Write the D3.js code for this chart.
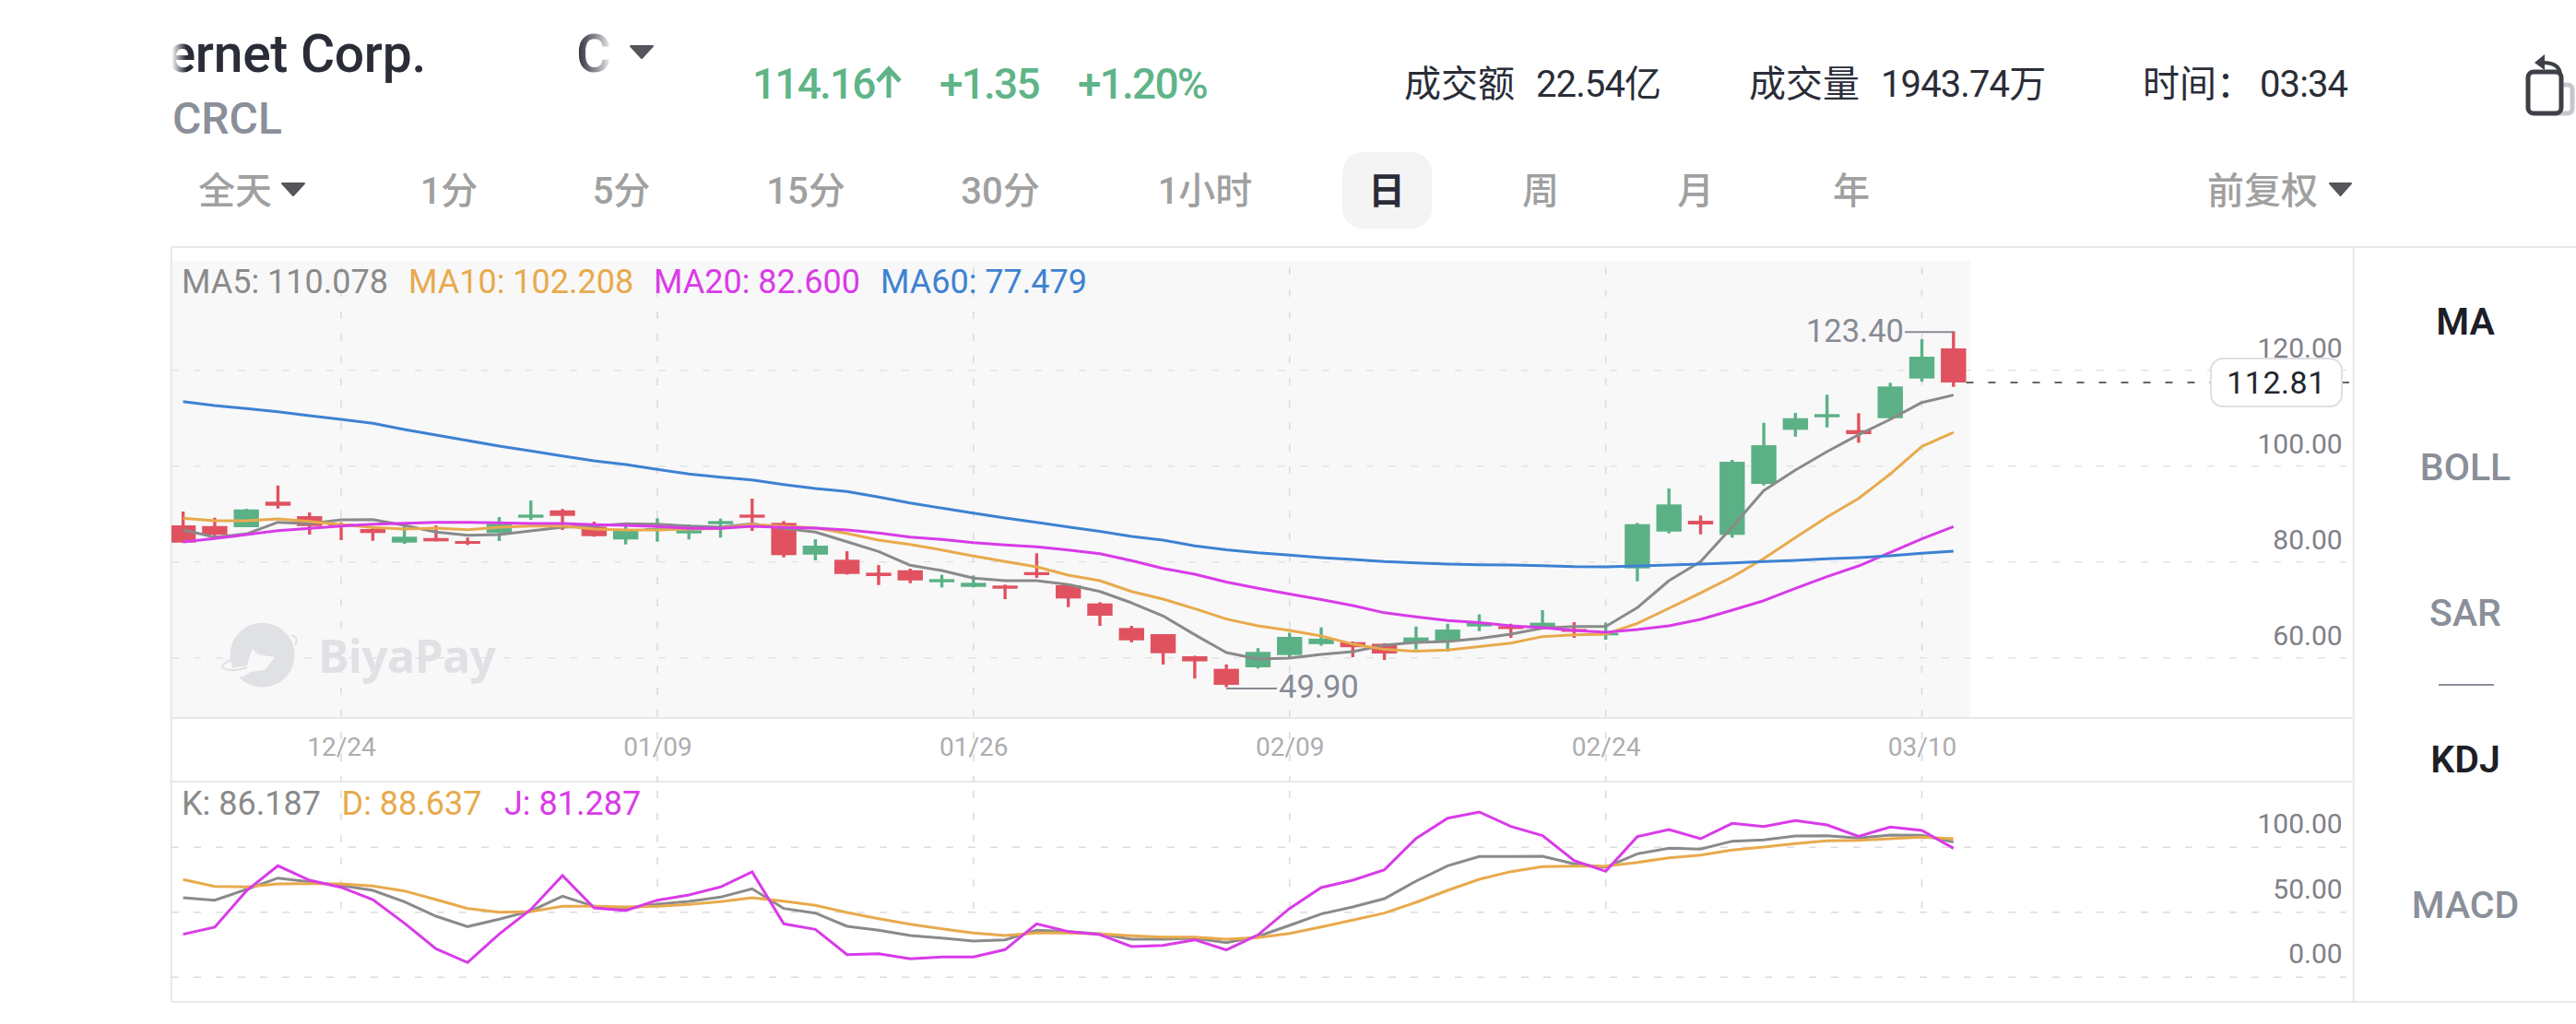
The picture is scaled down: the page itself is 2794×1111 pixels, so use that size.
<!DOCTYPE html>
<html><head><meta charset="utf-8">
<script src="https://cdnjs.cloudflare.com/ajax/libs/d3/7.8.5/d3.min.js"></script>
<style>html,body{margin:0;padding:0;background:#fff;overflow:hidden}svg{display:block}
text{font-family:Roboto,"Noto Sans CJK SC",sans-serif}</style></head><body><svg id="c" width="2794" height="1111"></svg>
<script>
const dates=['12/17','12/18','12/19','12/22','12/23','12/24','12/26','12/29','12/30','12/31','01/02','01/05','01/06','01/07','01/08','01/09','01/12','01/13','01/14','01/15','01/16','01/20','01/21','01/22','01/23','01/26','01/27','01/28','01/29','01/30','02/02','02/03','02/04','02/05','02/06','02/09','02/10','02/11','02/12','02/13','02/17','02/18','02/19','02/20','02/23','02/24','02/25','02/26','02/27','03/02','03/03','03/04','03/05','03/06','03/09','03/10','03/11'];
const dateTicks=['12/24','01/09','01/26','02/09','02/24','03/10'];
const opens=[83.30,83.16,82.92,88.19,85.20,83.62,82.54,79.74,80.69,80.06,81.72,84.88,86.40,82.97,80.39,82.16,81.64,83.55,85.52,83.81,77.26,76.20,73.53,74.03,71.55,70.60,70.87,73.65,70.93,67.18,62.11,60.84,56.27,53.68,53.99,56.52,58.78,59.18,58.86,58.97,59.32,62.42,62.48,62.23,61.90,60.59,74.41,82.02,84.25,81.34,91.86,103.03,105.62,102.96,105.43,113.62,119.84];
const highs=[86.15,84.88,86.72,91.54,85.96,83.93,82.97,83.30,83.30,80.77,85.01,88.44,86.67,84.06,83.68,84.76,83.49,84.69,88.82,84.19,80.44,77.97,75.11,74.35,73.08,72.96,71.06,77.53,71.06,67.44,62.55,60.84,56.38,54.58,57.95,61.12,62.23,59.32,58.97,62.42,62.99,64.93,62.99,65.79,63.31,63.20,83.81,90.91,85.33,96.81,104.48,106.52,110.27,106.46,112.74,121.74,123.40];
const lows=[79.68,80.88,82.92,86.78,81.39,80.25,80.12,79.49,80.00,79.24,80.06,84.44,82.35,80.96,79.36,79.93,80.39,80.77,82.16,76.69,76.07,73.15,70.98,71.36,70.49,70.49,68.07,72.45,66.42,62.55,59.13,54.56,51.67,49.90,53.74,55.95,58.46,56.08,55.51,57.68,57.22,61.45,60.08,61.90,60.08,59.70,71.74,81.64,81.45,80.77,91.54,101.63,103.53,100.37,105.43,112.99,111.90];
const closes=[79.74,81.39,86.59,87.35,83.16,83.16,81.72,80.96,80.00,79.49,83.62,85.52,85.26,81.07,82.29,82.73,82.29,84.19,84.88,77.15,79.11,73.27,72.83,71.93,72.20,71.44,70.22,73.02,68.20,64.65,59.56,56.90,55.22,50.37,57.17,60.27,59.89,58.14,56.84,60.15,61.79,63.20,61.90,63.20,61.31,61.12,83.55,87.62,83.49,96.43,99.86,105.43,106.27,102.14,111.98,118.13,112.81];
const ma5=[82.35,80.88,81.53,83.93,83.62,84.44,84.50,83.30,81.91,81.26,81.39,82.16,82.92,83.16,83.62,83.55,83.16,82.92,83.62,82.67,81.91,79.93,77.91,75.06,73.97,72.39,71.88,71.88,71.06,69.65,67.31,64.59,60.72,57.03,55.70,55.89,56.65,57.22,58.56,59.13,59.32,59.94,60.84,62.09,62.42,62.42,66.30,71.88,75.82,82.97,90.47,94.72,98.52,102.01,105.19,108.67,110.2];
const ma10=[84.76,84.25,84.25,84.63,84.12,83.43,82.86,82.54,82.73,82.40,82.92,83.16,83.16,82.54,82.35,82.35,82.54,82.67,83.49,83.11,82.78,81.64,80.25,79.36,78.22,76.96,75.82,74.73,73.02,71.88,69.65,68.07,66.11,63.96,62.55,61.60,60.46,58.78,57.68,57.30,57.56,58.27,58.97,60.34,60.72,60.86,63.07,66.17,69.35,72.64,76.45,80.77,85.01,88.87,93.90,99.61,102.5];
const ma20=[79.87,80.58,81.39,82.21,82.67,83.16,83.55,83.74,83.93,83.93,83.81,83.68,83.68,83.43,83.30,83.05,82.67,82.67,83.11,82.86,82.73,82.35,81.72,80.88,80.39,79.74,79.24,78.86,78.22,77.45,76.01,74.41,73.21,71.61,70.32,69.14,67.98,66.74,65.25,64.42,63.64,63.20,62.55,62.17,61.60,61.24,61.79,62.55,63.88,65.79,67.75,70.30,72.70,74.92,77.72,80.50,83.05];
const ma60=[108.86,108.04,107.41,106.77,105.95,105.19,104.37,103.09,101.95,100.81,99.67,98.66,97.63,96.62,95.86,94.85,93.90,93.25,92.68,91.73,90.91,90.28,89.14,87.92,86.86,85.83,84.82,83.93,82.97,82.06,81.01,80.25,79.05,78.25,77.63,77.17,76.66,76.26,75.82,75.55,75.30,75.17,75.11,74.98,74.77,74.73,74.92,75.11,75.30,75.55,75.82,76.07,76.39,76.64,77.02,77.53,77.97];
const kVals=[43.27,41.38,49.65,58.40,55.56,52.72,48.94,40.19,29.08,21.05,26.72,33.10,44.45,36.65,34.99,38.30,40.43,43.74,50.12,34.99,31.45,21.28,18.21,14.19,12.30,9.93,10.88,18.21,17.26,15.37,11.35,11.35,12.06,8.75,13.48,21.99,30.74,36.18,42.56,56.03,67.85,74.94,74.94,75.18,69.27,66.67,77.07,81.33,80.62,86.76,87.71,90.78,91.02,89.13,91.49,91.26,86.187];
const dVals=[57.21,52.01,51.54,53.91,54.14,53.91,52.25,48.47,41.85,34.99,32.16,32.63,36.65,36.65,36.18,36.65,38.07,40.19,43.27,40.67,37.36,31.92,27.19,22.94,19.39,16.08,14.19,16.08,16.08,15.37,13.95,13.00,13.00,11.35,12.54,15.84,20.81,26.01,31.45,39.72,48.94,57.45,63.36,67.14,67.62,67.62,70.45,74.00,76.13,79.91,82.27,84.87,87.00,87.47,88.66,89.84,88.637];
const jVals=[15.14,20.57,48.47,67.85,56.74,51.30,41.85,23.65,4.02,-6.61,15.37,34.28,60.29,35.47,33.34,41.38,45.39,51.54,63.12,23.17,18.92,-0.47,0.24,-3.78,-2.36,-2.36,3.31,23.17,17.26,14.90,5.68,6.62,10.88,3.08,14.66,34.99,51.07,56.74,64.78,88.89,104.49,109.22,98.11,91.02,71.87,63.60,90.31,95.75,88.66,100.48,98.11,102.60,99.29,90.55,97.64,95.04,81.287];
const priceTicks=[120,100,80,60];
const kdjTicks=[100,50,0];
const maLegend=[['MA5: 110.078','#8a8a8a'],['MA10: 102.208','#e8aa4c'],['MA20: 82.600','#d93be8'],['MA60: 77.479','#3d82d2']];
const kdjLegend=[['K: 86.187','#8a8a8a'],['D: 88.637','#e8aa4c'],['J: 81.287','#d93be8']];
const highLabel='123.40',lowLabel='49.90',lastLabel='112.81';
const tabs=[['全天',255],['1分',487],['5分',674],['15分',874],['30分',1085],['1小时',1307],['日',1504],['周',1671],['月',1839],['年',2008],['前复权',2454]];
const indicators=[['MA',348,1],['BOLL',506.5,0],['SAR',664.7,0],['KDJ',823,1],['MACD',981.5,0]];

const svg=d3.select('#c');
const UP='#5bb185',DOWN='#e0525f',DARK='#2a2d38',GREY='#8a8f99',TAB='#a0a0a0',TRI='#54565c';
const x=d3.scalePoint(dates,[198.6,2118.8]);
const y=d3.scaleLinear([123.4,49.9],[359.3,745.5]);
const yPriceAxis=d3.scaleLinear([120,60],[378,690]);
const yKdj=d3.scaleLinear([100,0],[894,1035]);
const GRID_OFF=23.7,KGRID_OFF=25.2;

const defs=svg.append('defs');
defs.append('clipPath').attr('id','plot').append('rect').attr('x',186).attr('y',283).attr('width',1951).attr('height',496);
defs.append('clipPath').attr('id','ttl').append('rect').attr('x',187).attr('y',20).attr('width',300).attr('height',80);
const gr=defs.append('linearGradient').attr('id','fadeC');
gr.append('stop').attr('offset',0).attr('stop-color','#2a2d38');
gr.append('stop').attr('offset',.55).attr('stop-color','#8a8c92');
gr.append('stop').attr('offset',1).attr('stop-color','#f2f2f2');
const gl=defs.append('linearGradient').attr('id','fadeL');
gl.append('stop').attr('offset',0).attr('stop-color','#fff').attr('stop-opacity',1);
gl.append('stop').attr('offset',1).attr('stop-color','#fff').attr('stop-opacity',0);

// frame
svg.append('rect').attr('x',186).attr('y',283).attr('width',1951).attr('height',496).attr('fill','#f8f8f9');
const frame=[[186,268,2794,268],[186,779,2553,779],[186,848,2553,848],[186,1087,2794,1087],[185.7,268,185.7,1087],[2552.7,268,2552.7,1087]];
svg.append('g').selectAll('line').data(frame).join('line').attr('x1',d=>d[0]).attr('y1',d=>d[1]).attr('x2',d=>d[2]).attr('y2',d=>d[3]).attr('stroke','#e8e8e9').attr('stroke-width',2);

// grid
const gg=svg.append('g').attr('stroke-width',1.6).attr('stroke-dasharray','8 16').attr('fill','none');
gg.selectAll('.h').data(priceTicks).join('line').attr('x1',186).attr('x2',2545).attr('y1',d=>yPriceAxis(d)+GRID_OFF).attr('y2',d=>yPriceAxis(d)+GRID_OFF).attr('stroke','#e4e4e6');
gg.selectAll('.k').data(kdjTicks).join('line').attr('class','k').attr('x1',186).attr('x2',2545).attr('y1',d=>yKdj(d)+KGRID_OFF).attr('y2',d=>yKdj(d)+KGRID_OFF).attr('stroke','#dcdcde');
gg.selectAll('.v').data(dateTicks).join('line').attr('class','v').attr('x1',d=>x(d)).attr('x2',d=>x(d)).attr('y1',290).attr('y2',848).attr('stroke','#dcdcdf');
gg.selectAll('.w').data(dateTicks).join('line').attr('class','w').attr('x1',d=>x(d)).attr('x2',d=>x(d)).attr('y1',858).attr('y2',989).attr('stroke','#dcdcdf');

// watermark
const wm=svg.append('g').attr('fill','#e0e1e4');
wm.append('circle').attr('cx',284.6).attr('cy',710.7).attr('r',35);
wm.append('path').attr('d','M273.6 704L280 710L298 713L287 727L272 729L264 734L248 735L246 726L268 722L271 712Z').attr('fill','#f8f8f9');
wm.append('path').attr('d','M251 716Q236 722 244 726Q256 729 268 724').attr('fill','none').attr('stroke','#e0e1e4').attr('stroke-width',2);
wm.append('path').attr('d','M316 689Q325 692 320 700').attr('fill','none').attr('stroke','#e0e1e4').attr('stroke-width',2);
wm.append('text').attr('x',345).attr('y',730).attr('font-size',50).attr('font-weight',700).attr('style','font-family:"Open Sans"').attr('textLength',193).text('BiyaPay');

// candles
const idx=d3.range(dates.length);
const cg=svg.append('g').attr('clip-path','url(#plot)');
const col=i=>closes[i]>=opens[i]?UP:DOWN;
cg.selectAll('.w').data(idx).join('rect').attr('class','w').attr('x',i=>x(dates[i])-1.7).attr('width',3.4).attr('y',i=>y(highs[i])).attr('height',i=>y(lows[i])-y(highs[i])).attr('fill',col);
cg.selectAll('.b').data(idx).join('rect').attr('class','b').attr('x',i=>x(dates[i])-13.7).attr('width',27.4).attr('y',i=>y(Math.max(opens[i],closes[i]))).attr('height',i=>Math.abs(y(opens[i])-y(closes[i]))).attr('fill',col);

// MA and KDJ lines
const lineP=d3.line().x((d,i)=>x(dates[i])).y(d=>y(d));
const lineK=d3.line().x((d,i)=>x(dates[i])).y(d=>yKdj(d));
[[ma5,maLegend[0][1]],[ma10,maLegend[1][1]],[ma20,maLegend[2][1]],[ma60,maLegend[3][1]]].forEach(([s,c])=>svg.append('path').attr('d',lineP(s)).attr('fill','none').attr('stroke',c).attr('stroke-width',3).attr('stroke-linejoin','round'));
[[kVals,kdjLegend[0][1]],[dVals,kdjLegend[1][1]],[jVals,kdjLegend[2][1]]].forEach(([s,c])=>svg.append('path').attr('d',lineK(s)).attr('fill','none').attr('stroke',c).attr('stroke-width',3).attr('stroke-linejoin','miter'));

// axes
const ax=svg.append('g').attr('transform','translate(2540.7,0)').call(d3.axisLeft(yPriceAxis).tickValues(priceTicks).tickSize(0).tickPadding(0).tickFormat(d3.format('.2f')));
const ak=svg.append('g').attr('transform','translate(2540.7,0)').call(d3.axisLeft(yKdj).tickValues(kdjTicks).tickSize(0).tickPadding(0).tickFormat(d3.format('.2f')));
[ax,ak].forEach(a=>{a.select('.domain').remove();a.selectAll('text').attr('font-size',30).attr('fill','#7f8087').attr('font-family','Roboto');});
const ad=svg.append('g').attr('transform','translate(0,811)').call(d3.axisBottom(x).tickValues(dateTicks).tickSize(0).tickPadding(0));
ad.select('.domain').remove();ad.selectAll('text').attr('font-size',28).attr('fill','#adadb0').attr('dy','0.32em').attr('y',0).attr('font-family','Roboto');

// legends
const lx=[197,443,709,955],kx=[197,370.6,547];
maLegend.forEach((d,i)=>svg.append('text').attr('x',lx[i]).attr('y',305).attr('dy','.35em').attr('font-size',36).attr('fill',d[1]).text(d[0]));
kdjLegend.forEach((d,i)=>svg.append('text').attr('x',kx[i]).attr('y',871).attr('dy','.35em').attr('font-size',36).attr('fill',d[1]).text(d[0]));

// hi / lo annotations
const hiI=d3.maxIndex(highs),loI=d3.minIndex(lows);
svg.append('line').attr('x1',2066).attr('x2',x(dates[hiI])).attr('y1',y(highs[hiI])+1).attr('y2',y(highs[hiI])+1).attr('stroke','#888b92').attr('stroke-width',2);
svg.append('text').attr('x',2065).attr('y',y(highs[hiI])).attr('dy','.35em').attr('text-anchor','end').attr('font-size',34.5).attr('fill','#878b94').text(highLabel);
svg.append('line').attr('x1',x(dates[loI])).attr('x2',1385).attr('y1',y(lows[loI])+1.5).attr('y2',y(lows[loI])+1.5).attr('stroke','#888b92').attr('stroke-width',2);
svg.append('text').attr('x',1387).attr('y',745).attr('dy','.35em').attr('font-size',34.5).attr('fill','#878b94').text(lowLabel);

// last price
const ly=y(closes[closes.length-1]);
svg.append('line').attr('x1',x(dates[dates.length-1])+13.7).attr('x2',2548).attr('y1',ly).attr('y2',ly).attr('stroke','#333').attr('stroke-width',1.6).attr('stroke-dasharray','8 16');
svg.append('rect').attr('x',2398).attr('y',389).attr('width',142).attr('height',52).attr('rx',13).attr('fill','#fff').attr('stroke','#dedfe1').attr('stroke-width',2);
svg.append('text').attr('x',2469).attr('y',ly).attr('dy','.35em').attr('text-anchor','middle').attr('font-size',34).attr('letter-spacing',.5).attr('fill','#24262e').text(lastLabel);

// header
const tri=(x0,x1,y0,y1)=>svg.append('path').attr('d',`M${x0} ${y0}H${x1}L${(x0+x1)/2} ${y1}Z`).attr('fill',TRI).attr('stroke',TRI).attr('stroke-width',2).attr('stroke-linejoin','round');
svg.append('text').attr('clip-path','url(#ttl)').attr('x',462).attr('y',78).attr('text-anchor','end').attr('font-size',57).attr('font-weight',500).attr('letter-spacing',-.3).attr('fill',DARK).text('ernet Corp.');
svg.append('rect').attr('x',186).attr('y',30).attr('width',16).attr('height',60).attr('fill','url(#fadeL)');
svg.append('text').attr('x',625).attr('y',78).attr('font-size',58).attr('font-weight',500).attr('fill','url(#fadeC)').text('C');
tri(684,708,50,63);
svg.append('text').attr('x',187).attr('y',145).attr('font-size',48).attr('font-weight',500).attr('fill',GREY).text('CRCL');
const hg=[['114.16',816],['+1.35',1019],['+1.20%',1169]];
hg.forEach(d=>svg.append('text').attr('x',d[1]).attr('y',107).attr('font-size',46).attr('font-weight',500).attr('letter-spacing',-1.8).attr('fill','#5fb488').text(d[0]));
svg.append('path').attr('d','M964 106V76M952 88L964 75L976 88').attr('fill','none').attr('stroke','#5fb488').attr('stroke-width',5);
[['成交额',1523],['22.54亿',1666],['成交量',1897],['1943.74万',2040],['时间：',2324],['03:34',2451]].forEach(d=>svg.append('text').attr('x',d[1]).attr('y',105).attr('font-size',40).attr('letter-spacing',/^\d/.test(d[0])?-.9:0).attr('fill',DARK).text(d[0]));
// share icon
svg.append('rect').attr('x',2768).attr('y',92).attr('width',22).attr('height',31).attr('rx',5).attr('fill','none').attr('stroke','#c5c7cc').attr('stroke-width',5);
svg.append('rect').attr('x',2742).attr('y',78).attr('width',36).attr('height',45).attr('rx',6).attr('fill','#fff').attr('stroke','#3e4048').attr('stroke-width',5);
svg.append('path').attr('d','M2777 82Q2777 68 2758 68').attr('fill','none').attr('stroke','#3e4048').attr('stroke-width',4);
svg.append('path').attr('d','M2760 59L2749 68L2760 76Z').attr('fill','#3e4048');

// tabs
svg.append('rect').attr('x',1456).attr('y',165).attr('width',97).attr('height',83).attr('rx',22).attr('fill','#f4f4f5');
tabs.forEach(d=>svg.append('text').attr('x',d[1]).attr('y',207).attr('dy','.36em').attr('text-anchor','middle').attr('font-size',40).attr('font-weight',d[0]==='日'?700:500).attr('fill',d[0]==='日'?DARK:TAB).text(d[0]));
tri(306,330,199,212);tri(2527,2550,199,212);

// right panel
indicators.forEach(d=>svg.append('text').attr('x',2674).attr('y',d[1]).attr('dy','.36em').attr('text-anchor','middle').attr('font-size',41).attr('font-weight',d[2]?600:500).attr('fill',d[2]?'#1d1f27':GREY).text(d[0]));
svg.append('line').attr('x1',2645).attr('x2',2705).attr('y1',743).attr('y2',743).attr('stroke',GREY).attr('stroke-width',2);
</script></body></html>
